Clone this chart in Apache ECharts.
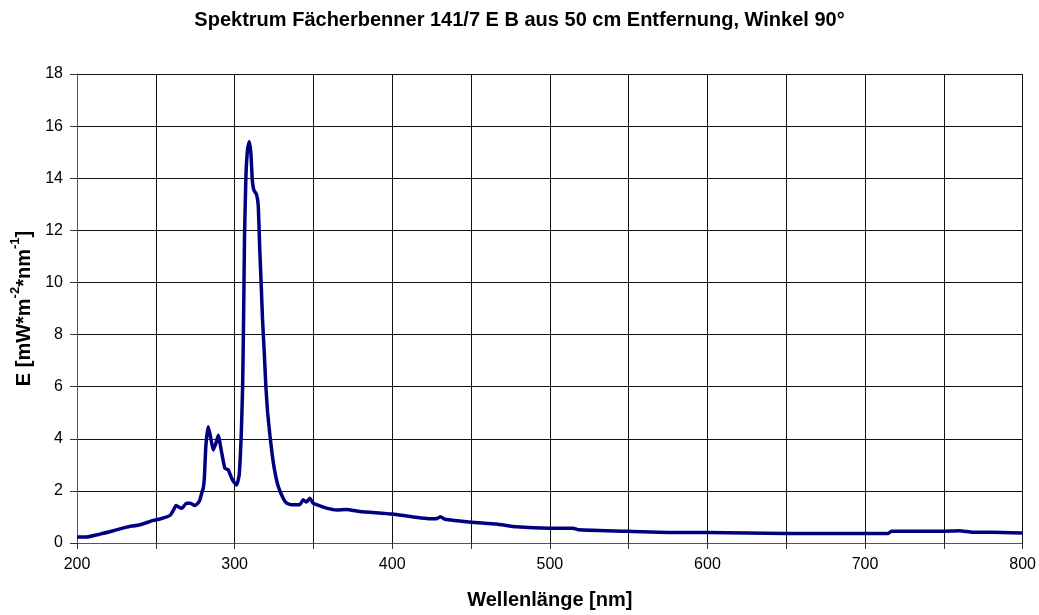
<!DOCTYPE html>
<html>
<head>
<meta charset="utf-8">
<script src="https://cdn.jsdelivr.net/npm/echarts@6/dist/echarts.min.js"></script>
<style>
html,body{margin:0;padding:0;background:#fff;}
#chart{width:1039px;height:615px;}
</style>
</head>
<body>
<div id="chart"></div>
<script>
const titleText = 'Spektrum Fächerbenner 141/7 E B aus 50 cm Entfernung, Winkel 90°';
const xAxisTitle = 'Wellenlänge [nm]';
const xTickValues = [200, 300, 400, 500, 600, 700, 800];
const yTickValues = [0, 2, 4, 6, 8, 10, 12, 14, 16, 18];

const wavelength = [
  200, 206, 214.6, 223, 231.5, 240, 248.4, 252.6, 259, 261, 262.8, 265.3, 266.5,
  269.5, 271.6, 274.8, 277, 278, 279.1, 280.1, 280.8, 281.8, 283.3, 285, 286.4,
  288.1, 289.6, 291.7, 293.8, 296, 298.1, 300, 301.3, 302.9, 304.2, 305.1, 305.7,
  306.3, 307.2, 308.2, 309.3, 310.3, 311.2, 312.2, 313.9, 315, 316, 316.9, 317.7,
  318.8, 319.8, 320.9, 322.4, 323.9, 325.5, 327.7, 330.8, 333, 336.1, 341.4, 343.5,
  345.6, 347.7, 349.8, 352, 358.3, 364.7, 371, 379.5, 400, 423.8, 428.5, 430.6,
  433.4, 450.3, 466.1, 478.8, 499.9, 514.7, 517.9, 549.6, 582.4, 600, 650, 692.3,
  714.5, 716.6, 749.3, 759.9, 768.3, 781, 800
];
const irradiance = [
  0.23, 0.23, 0.34, 0.47, 0.61, 0.70, 0.87, 0.92, 1.06, 1.24, 1.44, 1.36, 1.33,
  1.53, 1.53, 1.44, 1.55, 1.66, 1.91, 2.10, 2.49, 3.76, 4.46, 4.00, 3.57,
  3.82, 4.14, 3.50, 2.87, 2.80, 2.49, 2.30, 2.23, 2.61, 4.14, 6.05, 8.60,
  11.8, 14.1, 15.1, 15.4, 14.98, 13.96, 13.55, 13.38, 12.94, 11.2, 9.88, 8.60,
  7.33, 6.05, 5.04, 4.14, 3.38, 2.75, 2.17, 1.72, 1.53, 1.47, 1.47, 1.66,
  1.57, 1.72, 1.53, 1.47, 1.34, 1.27, 1.29, 1.21, 1.11, 0.93, 0.94, 1.01,
  0.91, 0.80, 0.73, 0.62, 0.57, 0.57, 0.51, 0.45, 0.40, 0.40, 0.36, 0.36,
  0.36, 0.45, 0.45, 0.47, 0.41, 0.41, 0.38
];

const seriesData = wavelength.map((w, i) => [w, irradiance[i]]);
const font = 'Liberation Sans, Arial, sans-serif';

const chart = echarts.init(document.getElementById('chart'), null, {renderer: 'canvas'});
chart.setOption({
  backgroundColor: '#ffffff',
  animation: false,
  title: {
    text: titleText,
    left: 'center',
    top: 5,
    textStyle: {fontFamily: font, fontSize: 20, fontWeight: 'bold', color: '#000'}
  },
  grid: {left: 77, right: 16, top: 74, bottom: 70, containLabel: false},
  xAxis: {
    type: 'value',
    min: 200, max: 800, interval: 50,
    name: xAxisTitle,
    nameLocation: 'middle',
    nameGap: 47,
    nameTextStyle: {fontFamily: font, fontSize: 20, fontWeight: 'bold', color: '#000'},
    axisLine: {show: true, onZero: false, lineStyle: {color: '#555', width: 1}},
    axisTick: {show: true, inside: false, length: 6, lineStyle: {color: '#333'}},
    axisLabel: {
      fontFamily: font, fontSize: 16, color: '#000', margin: 14,
      formatter: v => xTickValues.includes(v) ? String(v) : ''
    },
    splitLine: {show: true, lineStyle: {color: '#111', width: 1}}
  },
  yAxis: {
    type: 'value',
    min: 0, max: 18, interval: 2,
    name: '{b|E [mW*m}{s|-2}{b|*nm}{s|-1}{b|]}',
    nameLocation: 'middle',
    nameRotate: 90,
    nameGap: 42,
    nameTextStyle: {
      fontFamily: font, color: '#000',
      rich: {
        b: {fontFamily: font, fontSize: 20, fontWeight: 'bold', color: '#000', lineHeight: 25, verticalAlign: 'bottom'},
        s: {fontFamily: font, fontSize: 13, fontWeight: 'bold', color: '#000', lineHeight: 25, verticalAlign: 'top'}
      }
    },
    axisLine: {show: true, lineStyle: {color: '#555', width: 1}},
    axisTick: {show: true, inside: false, length: 7, lineStyle: {color: '#333'}},
    axisLabel: {
      fontFamily: font, fontSize: 16, color: '#000', margin: 14,
      formatter: v => yTickValues.includes(v) ? String(v) : ''
    },
    splitLine: {show: true, lineStyle: {color: '#111', width: 1}}
  },
  series: [{
    type: 'line',
    data: seriesData,
    showSymbol: false,
    smooth: 0.15,
    lineStyle: {color: '#000080', width: 3.5},
    itemStyle: {color: '#000080'}
  }]
});
</script>
</body>
</html>
